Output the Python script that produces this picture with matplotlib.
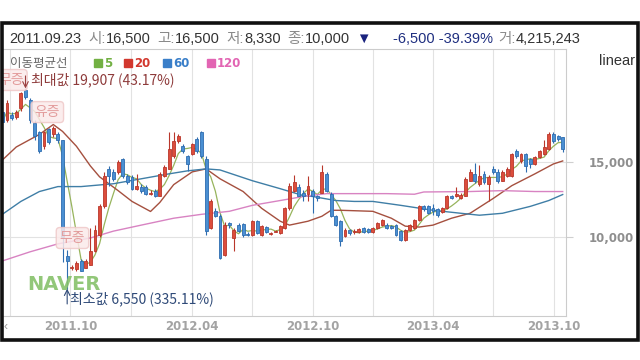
import matplotlib

matplotlib.use("Agg")
import matplotlib.pyplot as plt
import numpy as np
import pandas as pd
from matplotlib.patches import Rectangle

plt.rcParams["font.family"] = ["Liberation Sans", "Noto Sans CJK KR", "DejaVu Sans"]
KR = ["Noto Sans CJK KR", "DejaVu Sans"]
BOLD = ["DejaVu Sans"]

# weekly candles, week start dates
weeks = pd.date_range("2011-06-20", periods=122, freq="7D")

opens = [18360, 17830, 18160, 18030, 18620, 19800, 19150, 17630, 16970, 16050,
         17170, 16840, 16840, 16500, 8750, 7900, 7830, 8420, 7960, 8160,
         9080, 10130, 12040, 14540, 14340, 14340, 15200, 14080, 14000, 13220,
         13360, 13360, 12890, 13090, 12760, 14080, 14540, 15400, 16380, 16050,
         15400, 15530, 16510, 16970, 15200, 10590, 11710, 11380, 8810, 10920,
         9930, 10790, 10850, 10200, 10130, 11050, 10130, 10650, 10200, 10330,
         10260, 10590, 11910, 13090, 13360, 12960, 12890, 13090, 12700, 12960,
         14210, 12890, 11380, 11050, 10060, 10460, 10330, 10330, 10590, 10520,
         10330, 10590, 10790, 10790, 10720, 10790, 10390, 9800, 10460, 10590,
         11120, 12040, 12040, 11910, 11840, 11650, 11910, 12700, 12700, 12570,
         12760, 13750, 14210, 13550, 14210, 13550, 14540, 14340, 13750, 14080,
         14080, 15720, 15070, 15530, 15200, 14870, 15330, 15530, 15850, 16900,
         16710, 16640]
closes = [17700, 18950, 17960, 18360, 19600, 19340, 17830, 16710, 15720, 16970,
          16320, 17300, 16500, 10000, 8420, 8000, 8290, 7760, 8420, 9080,
          10460, 12040, 14080, 14080, 13880, 15000, 14080, 13680, 13220, 13420,
          13090, 12890, 12960, 12760, 14210, 14670, 15850, 16380, 16710, 15720,
          14870, 16180, 15720, 15400, 10390, 12370, 11380, 8620, 10800, 10790,
          10460, 10390, 10130, 10130, 11050, 10260, 10720, 10330, 10260, 10390,
          10720, 11910, 13420, 13680, 12760, 12700, 13420, 12700, 12570, 14340,
          13090, 11380, 10790, 9740, 10460, 10260, 10390, 10520, 10330, 10330,
          10590, 10920, 11120, 10590, 10590, 10130, 9800, 10460, 10790, 11120,
          12040, 11840, 11580, 11710, 11450, 11910, 12700, 12570, 12890, 12830,
          13880, 14340, 13750, 14080, 13680, 14000, 14340, 13750, 14340, 14540,
          15530, 15400, 15530, 14740, 14870, 15330, 15720, 15990, 16840, 16380,
          16510, 15850]
highs = [18500, 19150, 18360, 18500, 19700, 19907, 19300, 17800, 17100, 17100,
         17300, 17400, 17000, 16500, 9100, 8100, 8400, 8500, 8500, 10600,
         10800, 12200, 14300, 14700, 14500, 15100, 15300, 14200, 14100, 14200,
         13500, 13450, 13100, 13200, 14300, 14800, 16970, 16970, 16900, 16200,
         15500, 16300, 16700, 17100, 15400, 12500, 11900, 11500, 11000, 11000,
         10600, 10900, 10950, 10300, 11100, 11150, 10800, 10700, 10350, 10450,
         10800, 12000, 13600, 14100, 13500, 13100, 14080, 13200, 12800, 14800,
         14300, 13000, 11450, 11100, 10600, 10550, 10500, 10600, 10650, 10600,
         10650, 11000, 11200, 10900, 10800, 10850, 10450, 10500, 10850, 11200,
         12100, 12100, 12100, 12200, 11900, 12000, 12800, 12800, 13300, 12900,
         14000, 14500, 14900, 14800, 14400, 14100, 14700, 14500, 14450, 14650,
         15600, 15850, 15600, 15600, 15300, 15400, 15800, 16500, 16970, 17000,
         16800, 16700]
lows = [17600, 17700, 17830, 17900, 18400, 19200, 17600, 16500, 15600, 15900,
        16200, 16700, 16300, 8330, 6550, 7800, 7700, 7700, 7900, 8100,
        9000, 10000, 11900, 13400, 13700, 14200, 13950, 13550, 13100, 13100,
        12950, 12800, 12800, 12650, 12700, 14000, 14500, 15300, 16300, 15600,
        14400, 15450, 15600, 15300, 10130, 10500, 11300, 8500, 8700, 10600,
        9080, 10300, 10000, 10050, 10050, 10200, 10050, 10250, 10150, 10300,
        10200, 10500, 11800, 13000, 12700, 12400, 12370, 11580, 12400, 12900,
        13000, 11300, 10700, 9410, 10000, 10150, 10200, 10250, 10250, 10250,
        10250, 10500, 10700, 10500, 10500, 10050, 9700, 9700, 10400, 10500,
        11050, 11750, 11500, 11450, 11350, 11600, 11850, 12500, 12650, 12500,
        12700, 13700, 13600, 13400, 13550, 12370, 14200, 13600, 13700, 14000,
        14000, 15300, 14950, 14340, 14600, 14800, 15250, 15450, 15800, 16300,
        16400, 15700]

# moving averages (week index -> value)
ma20_at = [0, 3, 8, 11, 13, 16, 19, 21, 25, 28, 32, 34, 37, 41, 44, 47, 52, 56,
           60, 62, 66, 69, 71, 73, 80, 84, 87, 90, 93, 97, 101, 106, 110, 115, 119, 121]
ma20 = [15130, 16000, 16840, 17500, 17040, 16050, 14740, 14010, 13090, 12370,
        11700, 12300, 13490, 14340, 14540, 13880, 13030, 11910, 11050, 10790,
        11050, 11380, 11780, 11780, 11710, 11250, 10720, 10660, 10790, 11250,
        11580, 12570, 13420, 14210, 14870, 15070]
ma60_at = [0, 4, 8, 12, 17, 24, 30, 36, 40, 44, 47, 54, 60, 65, 67, 72, 76, 80,
           86, 93, 99, 103, 108, 114, 118, 121]
ma60 = [11510, 12370, 13030, 13360, 13360, 13550, 13880, 14210, 14410, 14540,
        14470, 13750, 13220, 12760, 12700, 12430, 12370, 12370, 12110, 11780,
        11580, 11450, 11580, 12040, 12430, 12830]
ma120_at = [0, 6, 12, 19, 24, 30, 37, 43, 49, 54, 60, 65, 70, 76, 83, 89, 91,
            101, 108, 115, 121]
ma120 = [8400, 9010, 9540, 9930, 10390, 10790, 11250, 11510, 11710, 12110,
         12430, 12700, 12890, 12890, 12890, 12850, 13000, 13030, 13090, 13030, 13030]

quarters = pd.date_range("2011-07-01", "2013-10-01", freq="QS")
label_dates = pd.to_datetime(["2011-10-01", "2012-04-01", "2012-10-01", "2013-04-01", "2013-10-01"])
tick_labels = ["2011.10", "2012.04", "2012.10", "2013.04", "2013.10"]
price_ticks = [10000, 15000]
price_labels = ["10,000", "15,000"]

legend_names = ["5", "20", "60", "120"]
legend_colors = ["#72b043", "#d2382e", "#3a7fc9", "#e265b3"]

header = [("2011.09.23", "#333333", 0), ("시:", "#8a8a8a", 7), ("16,500", "#333333", 0),
          ("고:", "#8a8a8a", 7), ("16,500", "#333333", 0), ("저:", "#8a8a8a", 7),
          ("8,330", "#333333", 0), ("종:", "#8a8a8a", 7), ("10,000", "#333333", 0),
          ("▼", "#1a237e", 6), ("-6,500 -39.39%", "#1f2f80", 22),
          ("거:", "#8a8a8a", 6), ("4,215,243", "#333333", 0)]

W, H = 640, 360
fig = plt.figure(figsize=(6.4, 3.6), dpi=100)
fig.patch.set_facecolor("white")


def box(x0, y0, x1, y1):
    return [x0 / W, 1 - y1 / H, (x1 - x0) / W, (y1 - y0) / H]


ax = fig.add_axes(box(3, 49, 566, 316))
ax.set_xlim(pd.Timestamp("2011-06-21"), pd.Timestamp("2013-10-19"))
ax.set_ylim(4728, 22537)

# moving averages
ma5 = pd.Series(closes).rolling(5, min_periods=1).mean()
ax.plot(weeks, ma5, color="#97b45c", lw=0.9, zorder=2)
ax.plot(weeks[ma20_at], ma20, color="#a5503f", lw=1.0, zorder=2)
ax.plot(weeks[ma60_at], ma60, color="#3f7ea6", lw=1.0, zorder=2)
ax.plot(weeks[ma120_at], ma120, color="#d883c2", lw=1.0, zorder=2)

# candles
o = np.array(opens)
c = np.array(closes)
up = c >= o
body_col = np.where(up, "#dc4d3c", "#4a8fd2")
edge_col = np.where(up, "#b9372b", "#2e6db0")
ax.vlines(weeks, lows, highs, colors=edge_col, linewidth=0.8, zorder=3)
ax.bar(weeks, np.abs(c - o), bottom=np.minimum(o, c), width=4.4,
       color=body_col, edgecolor=edge_col, linewidth=0.6, zorder=4)

# grid and axes
ax.set_xticks(label_dates)
ax.set_xticklabels(tick_labels)
ax.set_xticks([q for q in quarters if q not in label_dates], minor=True)
ax.grid(which="both", axis="x", color="#e2e2e2", lw=0.8, zorder=0)
ax.yaxis.tick_right()
ax.set_yticks(price_ticks)
ax.set_yticklabels(price_labels)
ax.grid(which="major", axis="y", color="#e2e2e2", lw=0.8, zorder=0)
ax.tick_params(axis="x", which="both", length=0, pad=3, labelsize=8.5, labelcolor="#a3a3a3")
ax.tick_params(axis="y", length=5, color="#cfcfcf", pad=44, labelsize=8.5, labelcolor="#8e8e8e")
plt.setp(ax.get_xticklabels(), fontweight="bold", family=BOLD)
plt.setp(ax.get_yticklabels(), fontweight="bold", family=BOLD, ha="right")
for side, sp in ax.spines.items():
    sp.set_color("#cccccc")
    sp.set_linewidth(0.8)
ax.spines["left"].set_visible(False)

# event labels
tag = dict(ha="center", va="center", fontsize=10, color="#e39c9c", family=KR, zorder=6,
           clip_on=True, bbox=dict(boxstyle="round,pad=0.25", fc="#fbeaea", ec="#efc9c9", alpha=0.85))
ax.text(pd.Timestamp("2011-07-03"), 20470, "무증", **tag)
ax.text(pd.Timestamp("2011-08-27"), 18330, "유증", **tag)
ax.text(pd.Timestamp("2011-10-04"), 9930, "무증", **tag)

# max / min markers
imax = int(np.argmax(highs))
imin = int(np.argmin(lows))
ax.annotate("", xy=(weeks[imax], highs[imax]), xytext=(0, 9), textcoords="offset points",
            arrowprops=dict(arrowstyle="->", color="#9b4040", lw=0.8, shrinkA=0, shrinkB=0), zorder=6)
ax.annotate("최대값 19,907 (43.17%)", xy=(weeks[imax], highs[imax]), xytext=(4, 6),
            textcoords="offset points", va="center", ha="left", fontsize=10,
            color="#8e3b3b", family=KR, zorder=6)
ax.annotate("", xy=(weeks[imin], lows[imin]), xytext=(0, -11), textcoords="offset points",
            arrowprops=dict(arrowstyle="->", color="#2f4a78", lw=0.8, shrinkA=0, shrinkB=0), zorder=6)
ax.annotate("최소값 6,550 (335.11%)", xy=(weeks[imin], lows[imin]), xytext=(2, -7),
            textcoords="offset points", va="center", ha="left", fontsize=10,
            color="#2f4a78", family=KR, zorder=6, annotation_clip=False)

# overlay in pixel coordinates
ov = fig.add_axes([0, 0, 1, 1], zorder=5)
ov.set_xlim(0, W)
ov.set_ylim(H, 0)
ov.axis("off")
ov.patch.set_alpha(0)

prev = None
for text, col, gap in header:
    kw = dict(fontsize=10.5, color=col, va="bottom", ha="left")
    if prev is None:
        prev = ov.text(9, 46, text, **kw)
    else:
        prev = ov.annotate(text, xy=(1, 0), xycoords=prev, xytext=(gap * 0.72, 0),
                           textcoords="offset points", **kw)

ov.text(10, 63, "이동평균선", fontsize=9, color="#666666", va="center", ha="left", family=KR)
for name, col, x in zip(legend_names, legend_colors, [94, 124, 163, 207]):
    ov.add_patch(Rectangle((x, 59), 8, 8, color=col))
    ov.text(x + 10, 63.5, name, fontsize=8.5, fontweight="bold", color=col,
            va="center", ha="left", family=BOLD)

ov.text(635, 61, "linear", fontsize=10.5, color="#333333", va="center", ha="right")
ov.text(64, 284, "NAVER", fontsize=14, fontweight="bold", color="#86c16a",
        va="center", ha="center", family=BOLD, alpha=0.9)
ov.text(6, 327, "‹", fontsize=9, color="#999999", va="center", ha="center")
ov.add_patch(Rectangle((1.6, 23), 636.5, 316.5, fill=False, ec="#111111", lw=2.6))

fig.savefig("out.png", dpi=100, facecolor="white")
